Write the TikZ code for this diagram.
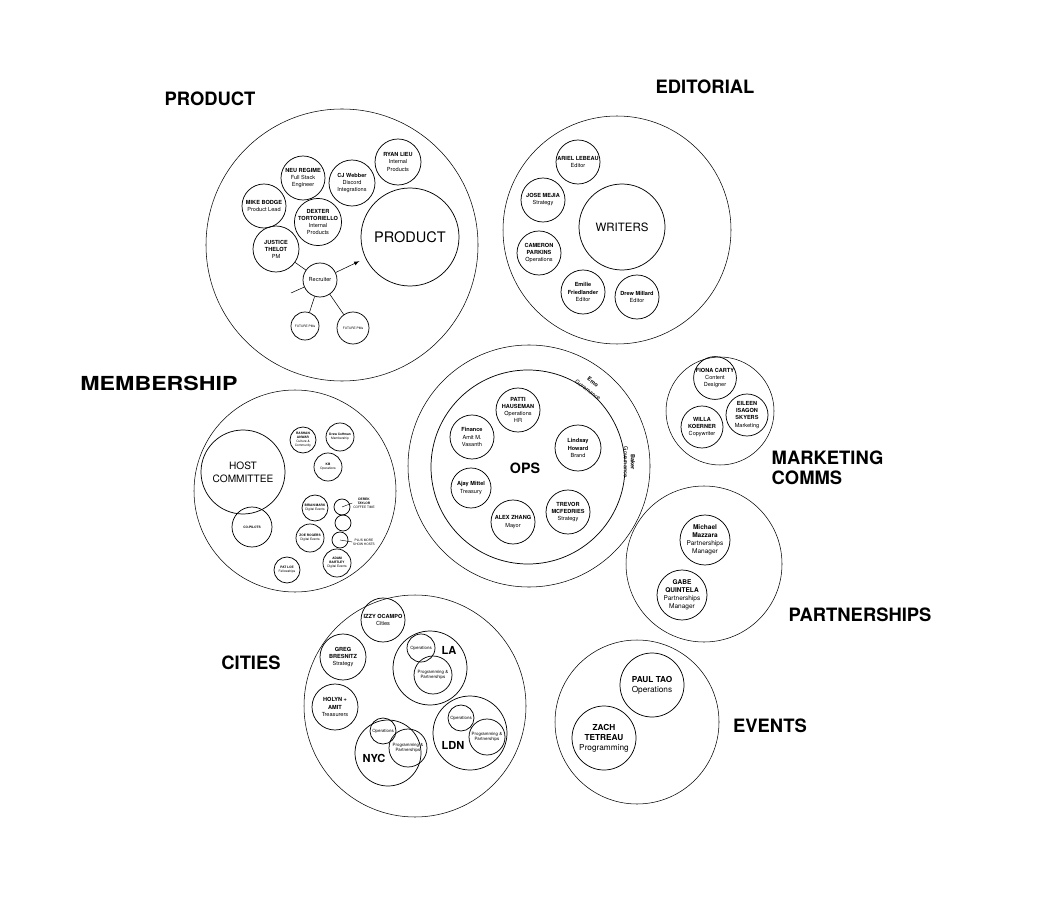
\documentclass[tikz,border=0pt]{standalone}
\usepackage{fontspec}
\setmainfont{TeX Gyre Heros}

\tikzset{
  group/.style={circle, draw, line width=0.4pt, inner sep=0pt, minimum size=#1*1.5pt},
  ring/.style={circle, draw, line width=0.55pt, inner sep=0pt, minimum size=#1*1.5pt, align=center},
  team/.style={font=\fontsize{13.8}{15}\selectfont\bfseries, align=left},
  big/.style={font=\fontsize{10.9}{12}\selectfont},
  mid/.style={font=\fontsize{8.6}{10}\selectfont},
  small/.style={font=\fontsize{4.2}{5.3}\selectfont},
  micro/.style={font=\fontsize{2.4}{3}\selectfont},
  unit/.style={font=\fontsize{3.3}{4.2}\selectfont},
  partner/.style={font=\fontsize{4.9}{6}\selectfont},
  events/.style={font=\fontsize{6.2}{7.5}\selectfont},
  city/.style={font=\fontsize{8.3}{9}\selectfont\bfseries}
}

\begin{document}
\begin{tikzpicture}[>=latex, x=0.75pt, y=-0.75pt]
    \useasboundingbox (0,0) rectangle (1055,912);

    % Product
    \node[team] (productlabel) at (210,99) {PRODUCT};
    \node[group=136] (productgroup) at (342,245) {};
    \node[ring=23, small] (ryan) at (398,162) {\textbf{RYAN LIEU}\\Internal\\Products};
    \node[ring=22, small] (neu) at (303,178) {\textbf{NEU REGIME}\\Full Stack\\Engineer};
    \node[ring=23, small] (cj) at (352,183) {\textbf{CJ Webber}\\Discord\\Integrations};
    \node[ring=22, small] (mike) at (264,206) {\textbf{MIKE BODGE}\\Product Lead};
    \node[ring=22, small] (dexter) at (318,222) {\textbf{DEXTER}\\\textbf{TORTORIELLO}\\Internal\\Products};
    \node[ring=23, small] (justice) at (276,249) {\textbf{JUSTICE}\\\textbf{THELOT}\\PM};
    \node[ring=49, big] (prodcore) at (410,237) {PRODUCT};
    \node[ring=17, small] (recruiter) at (320,280) {Recruiter};
    \node[ring=14, micro] (future1) at (305,326) {FUTURE PMs};
    \node[ring=16, micro] (future2) at (353,328) {FUTURE PMs};
    \coordinate (stub) at (291,293);
    \draw (recruiter) -- (justice);
    \draw (recruiter) -- (stub);
    \draw (recruiter) -- (future1);
    \draw (recruiter) -- (future2);
    \draw[->, shorten >=5pt] (recruiter) -- (prodcore);

    % Editorial
    \node[team] (editoriallabel) at (705,87) {EDITORIAL};
    \node[group=114] (editorialgroup) at (617,230) {};
    \node[ring=22, small] (ariel) at (578,162) {\textbf{ARIEL LEBEAU}\\Editor};
    \node[ring=22, small] (jose) at (543,200) {\textbf{JOSE MEJIA}\\Strategy};
    \node[ring=43, mid] (writers) at (622,227) {WRITERS};
    \node[ring=22, small] (cameron) at (539,253) {\textbf{CAMERON}\\\textbf{PARKINS}\\Operations};
    \node[ring=22, small] (emilie) at (583,292) {\textbf{Emilie}\\\textbf{Friedlander}\\Editor};
    \node[ring=22, small] (drew) at (637,297) {\textbf{Drew Millard}\\Editor};

    % Membership
    \node[team, font=\fontsize{14.5}{16}\selectfont\bfseries, xscale=1.2] (membershiplabel) at (159,383) {MEMBERSHIP};
    \node[group=101] (membershipgroup) at (295,491) {};
    \node[ring=42, font=\fontsize{7.6}{9.6}\selectfont] (host) at (243,472) {HOST\\COMMITTEE};
    \node[ring=20, micro] (copilots) at (252,527) {\textbf{CO-PILOTS}};
    \node[ring=13, micro] (rashan) at (303,440) {\textbf{RASHAN}\\\textbf{ANWAR}\\Culture \&\\Community};
    \node[ring=14, micro] (coffman) at (340,437) {\textbf{Drew Coffman}\\Membership};
    \node[ring=14, micro] (kb) at (328,467) {\textbf{KB}\\Operations};
    \node[ring=13, micro] (brian) at (315,508) {\textbf{BRIAN MARK}\\Digital Events};
    \node[ring=8] (dot1) at (342,507) {};
    \node[ring=8] (dot2) at (343,523) {};
    \node[ring=8] (dot3) at (340,540) {};
    \node[ring=14, micro] (zoe) at (310,538) {\textbf{ZOE ROGERS}\\Digital Events};
    \node[ring=13, micro] (patloe) at (287,570) {\textbf{PAT LOE}\\Fellowships};
    \node[ring=14, micro] (adam) at (337,563) {\textbf{ADAM}\\\textbf{BARTLEY}\\Digital Events};
    \node[micro, align=center, inner sep=0.5pt] (derek) at (364,503) {\textbf{DEREK}\\\textbf{TAYLOR}\\COFFEE TIME};
    \node[micro, align=center, inner sep=0.5pt] (plusmore) at (364,542) {PLUS MORE\\SHOW HOSTS};
    \draw[line width=0.3pt] (dot1.center) -- (derek.west);
    \draw[line width=0.3pt] (dot3.center) -- (plusmore.west);

    % Ops
    \node[group=121] (opsouter) at (529,466) {};
    \node[ring=97] (opsinner) at (528,467) {};
    \node[font=\fontsize{10.7}{12}\selectfont\bfseries] (opslabel) at (525,468) {OPS};
    \node[small, rotate=-37, inner sep=0pt] (emo) at (593,382) {\textbf{Emo}};
    \node[small, rotate=-37, inner sep=0pt] (emogov) at (588,390) {Governance};
    \node[small, rotate=-90, inner sep=0pt] (baker) at (633,462) {\textbf{Baker}};
    \node[small, rotate=-90, inner sep=0pt] (bakergov) at (626,462) {Governance};
    \node[ring=22, small] (patti) at (518,410) {\textbf{PATTI}\\\textbf{HAUSEMAN}\\Operations\\HR};
    \node[ring=22, small] (finance) at (472,437) {\textbf{Finance}\\Amit M.\\Vasanth};
    \node[ring=23, small] (lindsay) at (578,448) {\textbf{Lindsay}\\\textbf{Howard}\\Brand};
    \node[ring=20, small] (ajay) at (471,488) {\textbf{Ajay Mittel}\\Treasury};
    \node[ring=22, small] (trevor) at (568,512) {\textbf{TREVOR}\\\textbf{MCFEDRIES}\\Strategy};
    \node[ring=22, small] (alex) at (513,522) {\textbf{ALEX ZHANG}\\Mayor};

    % Marketing comms
    \node[team, anchor=west] (marketinglabel) at (767,468) {MARKETING\\COMMS};
    \node[group=54] (marketinggroup) at (720,411) {};
    \node[ring=21, small] (fiona) at (715,378) {\textbf{FIONA CARTY}\\Content\\Designer};
    \node[ring=21, small] (willa) at (702,427) {\textbf{WILLA}\\\textbf{KOERNER}\\Copywriter};
    \node[ring=21, small] (eileen) at (747,415) {\textbf{EILEEN}\\\textbf{ISAGON}\\\textbf{SKYERS}\\Marketing};

    % Partnerships
    \node[team] (partnerlabel) at (860,615) {PARTNERSHIPS};
    \node[group=78] (partnergroup) at (704,564) {};
    \node[ring=25, partner] (michael) at (705,540) {\textbf{Michael}\\\textbf{Mazzara}\\Partnerships\\Manager};
    \node[ring=25, partner] (gabe) at (682,595) {\textbf{GABE}\\\textbf{QUINTELA}\\Partnerships\\Manager};

    % Cities
    \node[team] (citieslabel) at (251,663) {CITIES};
    \node[group=111] (citiesgroup) at (415,706) {};
    \node[ring=22, small] (izzy) at (383,620) {\textbf{IZZY OCAMPO}\\Cities};
    \node[ring=23, small] (greg) at (343,657) {\textbf{GREG}\\\textbf{BRESNITZ}\\Strategy};
    \node[ring=23, small] (holyn) at (335,707) {\textbf{HOLYN +}\\\textbf{AMIT}\\Treasurers};
    \node[ring=37] (la) at (430,668) {};
    \node[ring=14, unit] (laops) at (421,648) {Operations};
    \node[ring=19, unit] (lapp) at (433,675) {Programming \&\\Partnerships};
    \node[city] (lalabel) at (449,650) {LA};
    \node[ring=33] (nyc) at (388,753) {};
    \node[ring=13, unit] (nycops) at (383,731) {Operations};
    \node[ring=19, unit] (nycpp) at (408,748) {Programming \&\\Partnerships};
    \node[city] (nyclabel) at (374,758) {NYC};
    \node[ring=37] (ldn) at (470,733) {};
    \node[ring=13, unit] (ldnops) at (461,718) {Operations};
    \node[ring=18, unit] (ldnpp) at (487,737) {Programming \&\\Partnerships};
    \node[city] (ldnlabel) at (453,745) {LDN};

    % Events
    \node[team] (eventslabel) at (770,726) {EVENTS};
    \node[group=82] (eventsgroup) at (637,722) {};
    \node[ring=32, events] (paul) at (652,685) {\textbf{PAUL TAO}\\Operations};
    \node[ring=32, events] (zach) at (604,738) {\textbf{ZACH}\\\textbf{TETREAU}\\Programming};
\end{tikzpicture}
\end{document}
